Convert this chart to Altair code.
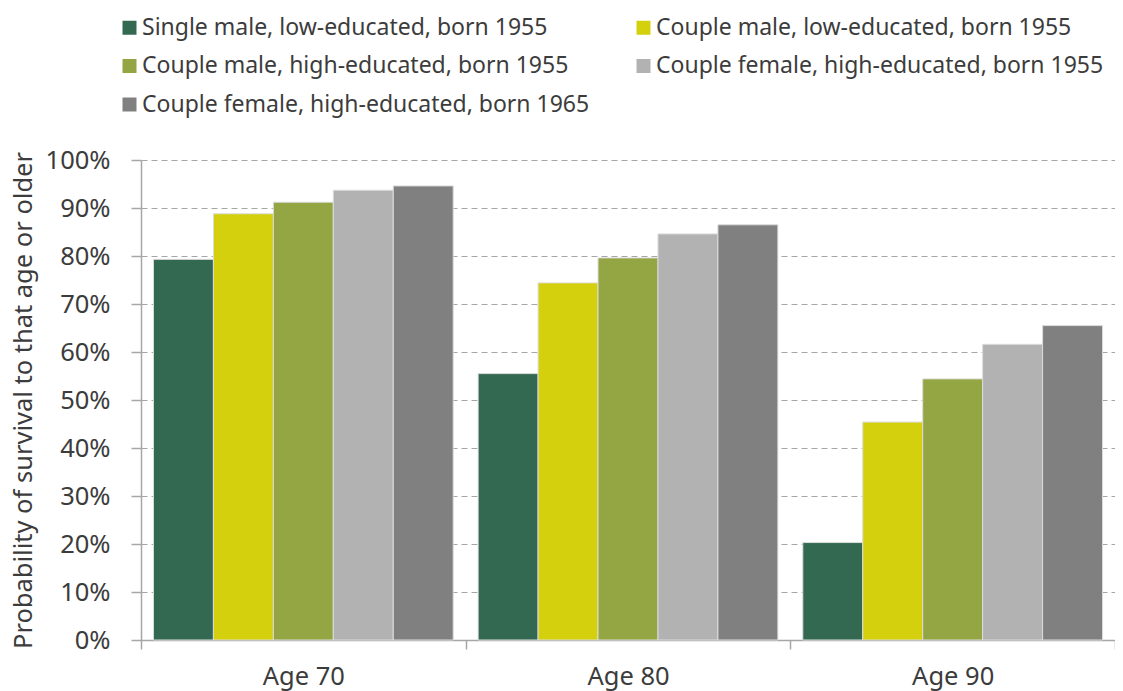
import altair as alt
import pandas as pd

ages = ["Age 70", "Age 80", "Age 90"]
series = [
    "Single male, low-educated, born 1955",
    "Couple male, low-educated, born 1955",
    "Couple male, high-educated, born 1955",
    "Couple female, high-educated, born 1955",
    "Couple female, high-educated, born 1965",
]
colors = ["#336950", "#d4d00e", "#94a543", "#b2b2b2", "#808080"]
# legend is laid out column by column: left column first, then right column
legend_order = [0, 2, 4, 1, 3]

single_male_low_1955 = [0.793, 0.555, 0.203]
couple_male_low_1955 = [0.888, 0.744, 0.454]
couple_male_high_1955 = [0.912, 0.796, 0.544]
couple_female_high_1955 = [0.937, 0.846, 0.616]
couple_female_high_1965 = [0.946, 0.865, 0.655]

values = [single_male_low_1955, couple_male_low_1955, couple_male_high_1955,
          couple_female_high_1955, couple_female_high_1965]

rows = []
for s, vals in zip(series, values):
    for a, v in zip(ages, vals):
        rows.append({"age": a, "series": s, "value": v})
df = pd.DataFrame(rows)

text_color = "#3c3c3c"
font = "Noto Sans"

color_domain = [series[i] for i in legend_order]
color_range = [colors[i] for i in legend_order]

chart = alt.Chart(df).mark_bar(stroke="#dcdcdc", strokeWidth=1).encode(
    x=alt.X("age:N", sort=ages,
            scale=alt.Scale(paddingInner=0, paddingOuter=0),
            axis=alt.Axis(title=None, labelAngle=0, tickBand="extent",
                          tickSize=9, tickColor="#a6a6a6", domainColor="#a6a6a6",
                          domainWidth=1.5, tickWidth=1.5,
                          labelFontSize=25.5, labelPadding=15, labelColor=text_color,
                          labelFont=font, grid=False)),
    xOffset=alt.XOffset("series:N", sort=series,
                        scale=alt.Scale(paddingInner=0, paddingOuter=0.208)),
    y=alt.Y("value:Q",
            scale=alt.Scale(domain=[0, 1], nice=False),
            axis=alt.Axis(title="Probability of survival to that age or older",
                          format=".0%", values=[i / 10 for i in range(11)],
                          tickSize=10, tickColor="#a6a6a6", tickWidth=1.5,
                          domainColor="#a6a6a6", domainWidth=1.5,
                          labelFontSize=25.5, labelPadding=21, labelColor=text_color,
                          labelFont=font,
                          titleFontSize=25.5, titleFontWeight="normal",
                          titleColor=text_color, titleFont=font, titlePadding=9,
                          grid=True, gridDash=[6, 4], gridColor="#a6a6a6",
                          gridWidth=1.2)),
    color=alt.Color("series:N",
                    scale=alt.Scale(domain=color_domain, range=color_range),
                    legend=alt.Legend(title=None, orient="none", legendX=-23,
                                      legendY=-144, columns=2, columnPadding=42,
                                      rowPadding=14.5, symbolType="square",
                                      symbolSize=196, symbolStrokeWidth=0,
                                      labelFontSize=23, labelColor=text_color,
                                      labelFont=font, labelLimit=700,
                                      labelOffset=1, padding=0)),
).properties(
    width=974, height=480,
    autosize=alt.AutoSizeParams(type="none"),
    padding={"left": 133, "top": 152, "right": 0, "bottom": 51},
).configure_view(stroke=None)

chart.save("out.html", embed_options={"renderer": "svg", "actions": False})
